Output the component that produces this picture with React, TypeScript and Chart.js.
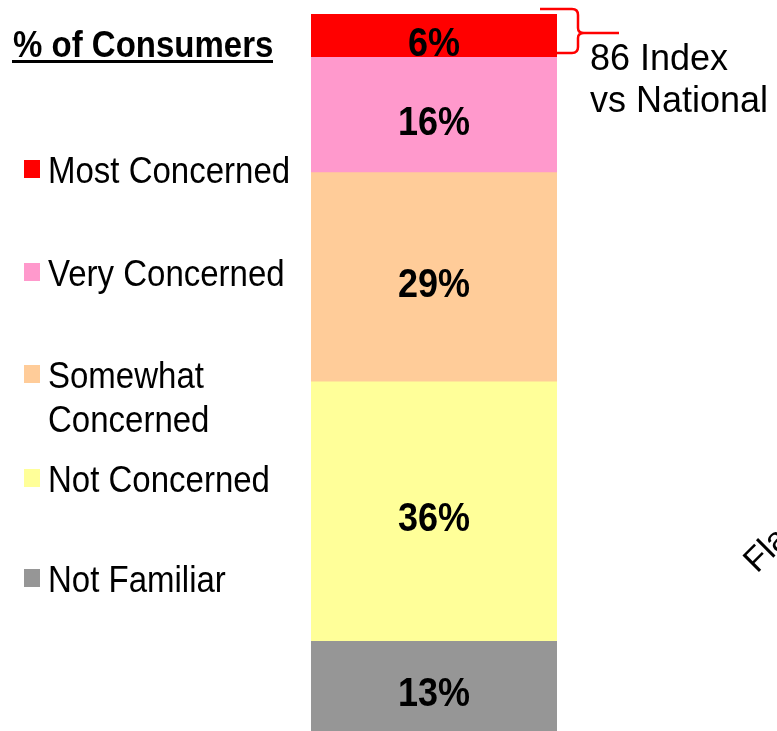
import React, { useEffect, useRef } from 'react';
import { Chart, registerables } from 'chart.js';
Chart.register(...registerables);

const categories = [''];
const notFamiliar = [13];
const notConcerned = [36];
const somewhatConcerned = [29];
const veryConcerned = [16];
const mostConcerned = [6];
const seriesNames = ['Not Familiar', 'Not Concerned', 'Somewhat Concerned', 'Very Concerned', 'Most Concerned'];
const seriesColors = ['#969696', '#FFFF99', '#FFCC99', '#FF99CC', '#FF0000'];
const legendOrder = ['Most Concerned', 'Very Concerned', 'Somewhat Concerned', 'Not Concerned', 'Not Familiar'];
const legendLines: Record<string, string[]> = {
  'Most Concerned': ['Most Concerned'],
  'Very Concerned': ['Very Concerned'],
  'Somewhat Concerned': ['Somewhat', 'Concerned'],
  'Not Concerned': ['Not Concerned'],
  'Not Familiar': ['Not Familiar'],
};
const legendBaselines = [183, 286, 388, 492, 592];
const titleText = '% of Consumers';
const noteLines = ['86 Index', 'vs National'];
const sideLabel = 'Fla';

function drawText(ctx: CanvasRenderingContext2D, text: string, x: number, y: number, font: string, sy: number, align: CanvasTextAlign = 'left') {
  ctx.save();
  ctx.translate(x, y);
  ctx.scale(1, sy);
  ctx.font = font;
  ctx.textAlign = align;
  ctx.textBaseline = 'alphabetic';
  ctx.fillStyle = '#000';
  ctx.fillText(text, 0, 0);
  ctx.restore();
}

const overlay = {
  id: 'overlay',
  afterDatasetsDraw(chart: any) {
    const ctx: CanvasRenderingContext2D = chart.ctx;
    // value labels
    chart.data.datasets.forEach((ds: any, i: number) => {
      const meta = chart.getDatasetMeta(i);
      meta.data.forEach((bar: any, j: number) => {
        const top = Math.max(bar.y, 14);
        const bottom = Math.min(bar.base, 731);
        const cy = (top + bottom) / 2;
        drawText(ctx, ds.data[j] + '%', bar.x, cy + 20, 'bold 36px "Liberation Sans", Arial, sans-serif', 1.15, 'center');
      });
    });
    // title
    drawText(ctx, titleText, 13, 57, 'bold 33px "Liberation Sans", Arial, sans-serif', 1.12);
    ctx.fillStyle = '#000';
    ctx.fillRect(12, 60, 261, 3);
    // legend
    legendOrder.forEach((name, k) => {
      const idx = seriesNames.indexOf(name);
      const base = legendBaselines[k];
      ctx.fillStyle = seriesColors[idx];
      ctx.fillRect(24, base - 23, 16, 18);
      legendLines[name].forEach((line, li) => {
        drawText(ctx, line, 48, base + li * 44, '33px "Liberation Sans", Arial, sans-serif', 1.1);
      });
    });
    // bracket
    ctx.save();
    ctx.strokeStyle = '#FF0000';
    ctx.lineWidth = 2.5;
    ctx.beginPath();
    ctx.moveTo(540, 9);
    ctx.lineTo(572, 9);
    ctx.quadraticCurveTo(578, 9, 578, 15);
    ctx.lineTo(578, 28);
    ctx.quadraticCurveTo(578, 33, 584, 33);
    ctx.lineTo(619, 33);
    ctx.moveTo(584, 33);
    ctx.quadraticCurveTo(578, 33, 578, 38);
    ctx.lineTo(578, 47);
    ctx.quadraticCurveTo(578, 53, 572, 53);
    ctx.lineTo(550, 53);
    ctx.stroke();
    ctx.restore();
    // note
    drawText(ctx, noteLines[0], 590, 70, '36px "Liberation Sans", Arial, sans-serif', 1);
    drawText(ctx, noteLines[1], 590, 112, '36px "Liberation Sans", Arial, sans-serif', 1);
    // side label
    ctx.save();
    ctx.translate(757, 574);
    ctx.rotate(-Math.PI / 4);
    ctx.font = '34px "Liberation Sans", Arial, sans-serif';
    ctx.fillStyle = '#000';
    ctx.fillText(sideLabel, 0, 0);
    ctx.restore();
  },
};

export default function App() {
  const ref = useRef<HTMLCanvasElement>(null);
  useEffect(() => {
    const seriesValues = [notFamiliar, notConcerned, somewhatConcerned, veryConcerned, mostConcerned];
    const chart = new Chart(ref.current!, {
      type: 'bar',
      data: {
        labels: categories,
        datasets: seriesNames.map((name, i) => ({
          label: name,
          data: seriesValues[i],
          backgroundColor: seriesColors[i],
          borderWidth: 0,
          categoryPercentage: 1,
          barPercentage: 1,
        })),
      },
      options: {
        responsive: false,
        animation: false,
        layout: { padding: { left: 311, right: 220, top: 14, bottom: 0 } },
        plugins: { legend: { display: false }, tooltip: { enabled: false }, title: { display: false } },
        scales: {
          x: { stacked: true, display: false },
          y: { stacked: true, display: false, min: 0, max: 100 },
        },
      },
      plugins: [overlay],
    });
    return () => chart.destroy();
  }, []);
  return (
    <div style={{ position: 'absolute', left: 0, top: 0, width: 777, height: 731, overflow: 'hidden', background: '#fff' }}>
      <canvas ref={ref} width={777} height={735} style={{ display: 'block' }} />
    </div>
  );
}
